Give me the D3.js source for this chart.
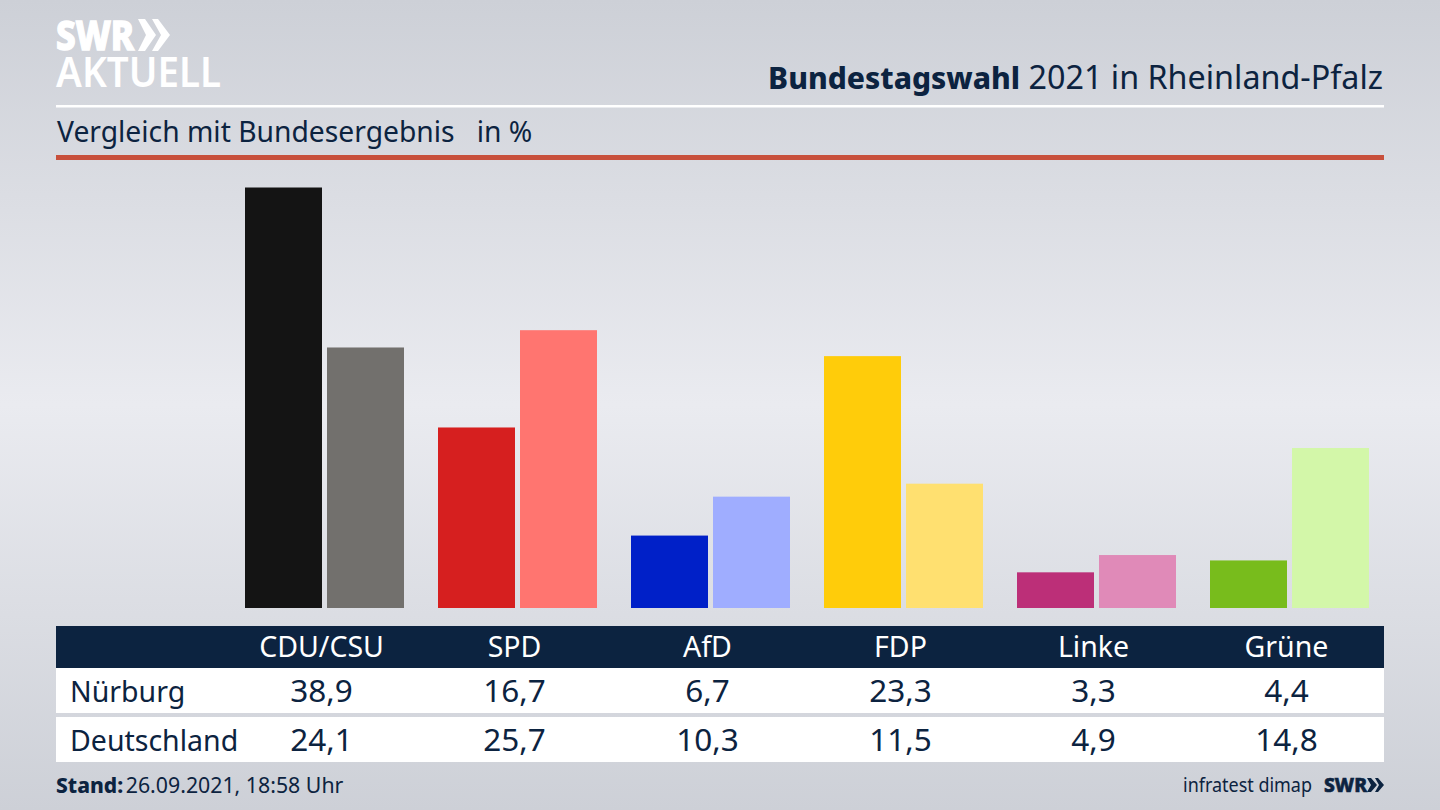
<!DOCTYPE html>
<html>
<head>
<meta charset="utf-8">
<script src="https://cdn.jsdelivr.net/npm/d3@7"></script>
<style>
html, body { margin: 0; padding: 0; background: #d5d7dd; }
svg { display: block; }
text { font-family: "Noto Sans", sans-serif; }
</style>
</head>
<body>
<div id="chart"></div>
<script>
var parties = ["CDU/CSU", "SPD", "AfD", "FDP", "Linke", "Grüne"];
var regions = ["Nürburg", "Deutschland"];
var nuerburg = [38.9, 16.7, 6.7, 23.3, 3.3, 4.4];
var deutschland = [24.1, 25.7, 10.3, 11.5, 4.9, 14.8];
var labelsNuerburg = ["38,9", "16,7", "6,7", "23,3", "3,3", "4,4"];
var labelsDeutschland = ["24,1", "25,7", "10,3", "11,5", "4,9", "14,8"];
var colorsNuerburg = ["#141414", "#d61f1f", "#0020c8", "#ffcc0a", "#bc2f78", "#78bc1c"];
var colorsDeutschland = ["#72706d", "#ff7570", "#9fadff", "#ffe070", "#e08ab8", "#d3f7a9"];

var navy = "#0c2340";
var width = 1440, height = 810;

var svg = d3.select("#chart").append("svg")
	.attr("width", width)
	.attr("height", height);

// background
var defs = svg.append("defs");
var bg = defs.append("linearGradient").attr("id", "bg")
	.attr("x1", 0).attr("y1", 0).attr("x2", 0).attr("y2", 1);
bg.append("stop").attr("offset", "0%").attr("stop-color", "#cdd0d7");
bg.append("stop").attr("offset", "50%").attr("stop-color", "#eaebf0");
bg.append("stop").attr("offset", "100%").attr("stop-color", "#cdd0d7");
svg.append("rect").attr("width", width).attr("height", height).attr("fill", "url(#bg)");

// logo
var logo = svg.append("g").attr("fill", "#fff");
logo.append("text").attr("x", 56).attr("y", 50)
	.attr("font-size", 41).attr("font-weight", 800)
	.attr("stroke", "#fff").attr("stroke-width", 1.4)
	.attr("textLength", 78).attr("lengthAdjust", "spacingAndGlyphs").text("SWR");
logo.append("text").attr("x", 56).attr("y", 87)
	.attr("font-size", 41).attr("font-weight", 600)
	.attr("textLength", 165).attr("lengthAdjust", "spacingAndGlyphs").text("AKTUELL");
logo.append("path").attr("d", "M138 19h7l11 16-11 16h-7l8-16zM152 19h6l12 16-12 16h-6l9-16z");

// header
svg.append("text").attr("x", 1383).attr("y", 89)
	.attr("text-anchor", "end").attr("font-size", 32.3).attr("fill", navy)
	.call(function(t) {
		t.append("tspan").attr("font-weight", 800).attr("font-size", 30).text("Bundestagswahl");
		t.append("tspan").text(" 2021 in Rheinland-Pfalz");
	});
svg.append("rect").attr("x", 56).attr("y", 105).attr("width", 1328).attr("height", 2.5).attr("fill", "#fff");
svg.append("text").attr("x", 57).attr("y", 142)
	.attr("font-size", 28.25).attr("fill", navy)
	.attr("xml:space", "preserve").text("Vergleich mit Bundesergebnis   in %");
svg.append("rect").attr("x", 56).attr("y", 155).attr("width", 1328).attr("height", 5).attr("fill", "#c8503c");

// scales
var x = d3.scaleBand().domain(parties).range([225, 1383]);
var y = d3.scaleLinear().domain([0, 38.9]).range([608, 187.5]);
var barWidth = 77, barGap = 5, barShift = 3;

var groups = svg.selectAll(".party")
	.data(parties)
	.enter()
	.append("g")
	.attr("class", "party");

groups.append("rect")
	.attr("x", function(d) { return x(d) + x.bandwidth() / 2 + barShift - barGap / 2 - barWidth; })
	.attr("y", function(d, i) { return y(nuerburg[i]); })
	.attr("width", barWidth)
	.attr("height", function(d, i) { return y(0) - y(nuerburg[i]); })
	.attr("fill", function(d, i) { return colorsNuerburg[i]; });

groups.append("rect")
	.attr("x", function(d) { return x(d) + x.bandwidth() / 2 + barShift + barGap / 2; })
	.attr("y", function(d, i) { return y(deutschland[i]); })
	.attr("width", barWidth)
	.attr("height", function(d, i) { return y(0) - y(deutschland[i]); })
	.attr("fill", function(d, i) { return colorsDeutschland[i]; });

// table
svg.append("rect").attr("x", 56).attr("y", 626).attr("width", 1328).attr("height", 42).attr("fill", navy);
svg.append("rect").attr("x", 56).attr("y", 668).attr("width", 1328).attr("height", 45).attr("fill", "#fff");
svg.append("rect").attr("x", 56).attr("y", 717).attr("width", 1328).attr("height", 45).attr("fill", "#fff");

svg.selectAll(".head")
	.data(parties)
	.enter()
	.append("text")
	.attr("class", "head")
	.attr("x", function(d) { return x(d) + x.bandwidth() / 2; })
	.attr("y", 657)
	.attr("text-anchor", "middle")
	.attr("font-size", 28.5)
	.attr("fill", "#fff")
	.text(function(d) { return d; });

[labelsNuerburg, labelsDeutschland].forEach(function(row, r) {
	var base = r == 0 ? 702 : 751;
	svg.append("text").attr("x", 70).attr("y", base)
		.attr("font-size", 28.5).attr("fill", navy).text(regions[r]);
	svg.selectAll(".val" + r)
		.data(row)
		.enter()
		.append("text")
		.attr("class", "val" + r)
		.attr("x", function(d, i) { return x(parties[i]) + x.bandwidth() / 2; })
		.attr("y", base)
		.attr("text-anchor", "middle")
		.attr("font-size", 31.5)
		.attr("fill", navy)
		.text(function(d) { return d; });
});

// footer
svg.append("text").attr("x", 56).attr("y", 793)
	.attr("font-size", 21.3).attr("fill", navy)
	.call(function(t) {
		t.append("tspan").attr("font-weight", 800).attr("font-size", 21).text("Stand:");
		t.append("tspan").attr("dx", -3).text(" 26.09.2021, 18:58 Uhr");
	});
svg.append("text").attr("x", 1183).attr("y", 792)
	.attr("font-size", 19.5).attr("fill", navy)
	.attr("textLength", 129).attr("lengthAdjust", "spacingAndGlyphs").text("infratest dimap");
svg.append("text").attr("x", 1324).attr("y", 792)
	.attr("font-size", 20).attr("font-weight", 800).attr("fill", navy)
	.attr("stroke", navy).attr("stroke-width", 0.6)
	.attr("textLength", 43).attr("lengthAdjust", "spacingAndGlyphs").text("SWR");
svg.append("path").attr("fill", navy)
	.attr("d", "M1367 778h4l6 7-6 7h-4l4-7zM1375 778h3l6 7-6 7h-3l4-7z");
</script>
</body>
</html>
